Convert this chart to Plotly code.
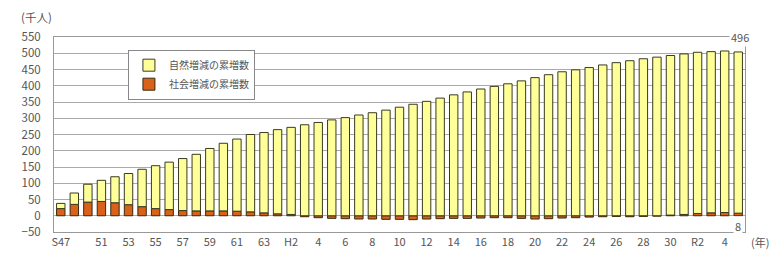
import plotly.graph_objects as go

# ---- data (thousand persons) ----
categories = ["S47"] + [f"S{y}" for y in range(49, 64)] + [f"H{y}" for y in range(1, 31)] + [f"R{y}" for y in range(1, 6)]

natural = [16, 35, 55, 65, 80, 96, 115, 132, 146, 160, 174, 192, 208, 222, 238, 247,
           259, 268, 280, 287, 295, 302, 310, 317, 325, 334, 343, 352, 362, 372, 381,
           390, 398, 406, 415, 425, 434, 443, 449, 456, 464, 471, 477, 483, 488, 491,
           494, 496, 496, 497, 496]
social = [22, 35, 42, 44, 40, 34, 28, 22, 19, 16, 15, 15, 15, 14, 12, 9,
          6, 4, -3, -6, -8, -9, -10, -10, -11, -11, -12, -10, -9, -8, -8,
          -7, -6, -6, -8, -10, -9, -7, -6, -4, -3, -2, -3, -2, -1, 2,
          4, 7, 9, 10, 8]

tick_cats = ["S47", "S51", "S53", "S55", "S57", "S59", "S61", "S63", "H2", "H4", "H6", "H8",
             "H10", "H12", "H14", "H16", "H18", "H20", "H22", "H24", "H26", "H28", "H30",
             "R2", "R4"]
tick_text = ["S47", "51", "53", "55", "57", "59", "61", "63", "H2", "4", "6", "8",
             "10", "12", "14", "16", "18", "20", "22", "24", "26", "28", "30", "R2", "4"]

x = list(range(len(categories)))
tickvals = [categories.index(c) for c in tick_cats]

font_family = "Noto Sans CJK JP, Noto Sans, sans-serif"
grey_txt = "#555555"

fig = go.Figure()
fig.add_trace(go.Bar(x=x, y=social, name="社会増減の累増数",
                     marker=dict(color="#D8621A", line=dict(color="#3a2a10", width=1)),
                     customdata=categories))
fig.add_trace(go.Bar(x=x, y=natural, name="自然増減の累増数",
                     marker=dict(color="#FFFF99", line=dict(color="#3a3a20", width=1)),
                     customdata=categories))

# page body has an 8px default margin, so the figure is sized to the visible area
fig.update_layout(
    width=770, height=253,
    margin=dict(l=46, r=33, t=29, b=18),
    barmode="relative", bargap=0.38,
    paper_bgcolor="white", plot_bgcolor="white",
    font=dict(family=font_family, size=11, color=grey_txt),
    showlegend=True,
    legend=dict(x=0.107, y=0.935, xanchor="left", yanchor="top",
                traceorder="reversed", bgcolor="white",
                bordercolor="#888888", borderwidth=1,
                font=dict(size=10, color=grey_txt),
                tracegroupgap=0, itemwidth=30),
)
fig.update_xaxes(range=[-0.5, len(categories) - 0.5], tickmode="array",
                 tickvals=tickvals, ticktext=tick_text, showgrid=False,
                 showline=True, linecolor="#999999", mirror=True,
                 ticks="", tickfont=dict(size=11, color=grey_txt))
fig.update_yaxes(range=[-50, 550], dtick=50, showgrid=True, gridcolor="#aaaaaa",
                 gridwidth=1, zeroline=True, zerolinecolor="#aaaaaa", zerolinewidth=1,
                 showline=True, linecolor="#999999", mirror=True,
                 ticks="", ticklabelstandoff=10, tickfont=dict(size=11.5, color=grey_txt))

fig.add_annotation(text="(千人)", xref="paper", yref="paper", x=-0.05, y=1.105,
                   xanchor="left", yanchor="middle", showarrow=False,
                   font=dict(size=11.5, color=grey_txt))
fig.add_annotation(text="(年)", xref="paper", yref="paper", x=1.0, y=-0.049,
                   xanchor="right", yanchor="middle", xshift=26, showarrow=False,
                   font=dict(size=11, color=grey_txt))
fig.add_annotation(text=str(natural[-1]), x=x[-1], y=550, xref="x", yref="y",
                   showarrow=False, bgcolor="white", xshift=2,
                   font=dict(size=11, color=grey_txt))
fig.add_annotation(text=str(social[-1]), x=x[-1], y=-30, xref="x", yref="y",
                   showarrow=False, bgcolor="white",
                   font=dict(size=11, color=grey_txt))

fig.write_html("out.html")
